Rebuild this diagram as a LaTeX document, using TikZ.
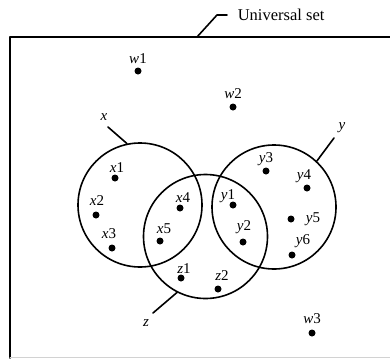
\documentclass[tikz,border=0pt]{standalone}
\usepackage{fontspec}
\setmainfont{Liberation Serif}
\begin{document}
\begin{tikzpicture}[x=1pt, y=-1pt, line width=1.6pt, line cap=round, line join=round,
  conjunto/.style={draw, circle, minimum size=124pt, inner sep=0pt},
  punto/.style={fill, circle, inner sep=0pt, minimum size=7pt},
  etiq/.style={inner sep=0pt, font=\fontsize{15}{17}\selectfont}]
  \useasboundingbox (0,0) rectangle (390,359);
  % el universo: arriba y a la izquierda, abajo casi borrado
  \draw (10,358) -- (10,37) -- (390,37);
  \draw[gray!35, line width=1pt] (10,357.5) -- (390,357.5);
  \coordinate (ub) at (197,37);
  \coordinate (uc) at (217,15);
  \node[etiq, font=\fontsize{16.5}{19}\selectfont, anchor=base west] (univ) at (237,20) {Universal set};
  \draw (ub) -- (uc) -- ++(10,0);
  % los tres conjuntos
  \node[conjunto] (cx) at (140,205) {};
  \node[conjunto] (cy) at (274,207) {};
  \node[conjunto] (cz) at (205.5,236.5) {};
  % sus nombres, con la rayita
  \node[etiq] (lx) at (104,117) {\textit{x}};
  \node[etiq] (ly) at (342,128) {\textit{y}};
  \node[etiq] (lz) at (146,323) {\textit{z}};
  \coordinate (ex) at (108,127);
  \coordinate (ey) at (334,138);
  \coordinate (ez) at (153,313);
  \draw (cx.102) -- (ex);
  \draw (cy.47) -- (ey);
  \draw (cz.243) -- (ez);
  % los elementos, cada uno con su nombre encima
  \foreach \n/\l/\d/\x/\y/\lx/\ly in {
      w1/w/1/138/71/138/59, w2/w/2/233/107/233/94, w3/w/3/312/333/312/318.5,
      x1/x/1/115/178/117/168, x2/x/2/96/215/97/201, x3/x/3/112/248/109/233.5,
      x4/x/4/180/208/183/198, x5/x/5/160/241/164/228.5,
      y1/y/1/233/205/228/196, y2/y/2/243/242/244/227.5, y3/y/3/266/171/266/159,
      y4/y/4/307/188/304/176, y5/y/5/291/219/313/219, y6/y/6/292/255/303/241.5,
      z1/z/1/181/278/184/268.5, z2/z/2/218/289/222/275.5} {
    \node[punto] (\n) at (\x,\y) {};
    \node[etiq] (l\n) at (\lx,\ly) {\textit{\l}\d};
  }
\end{tikzpicture}
\end{document}
